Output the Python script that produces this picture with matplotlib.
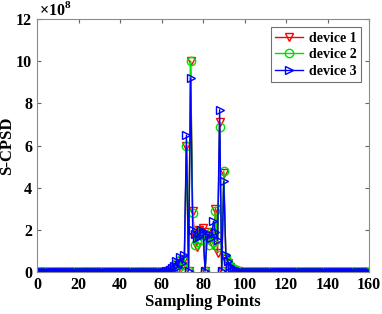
import matplotlib.pyplot as plt
import numpy as np

plt.rcParams['font.family'] = 'Liberation Serif'
plt.rcParams['font.weight'] = 'bold'
plt.rcParams['mathtext.fontset'] = 'custom'
plt.rcParams['mathtext.rm'] = 'Liberation Serif:bold'
plt.rcParams['mathtext.bf'] = 'Liberation Serif:bold'

x = np.arange(0, 161)

# values for sampling points 60..100 (units of 1e8), zero elsewhere
start = 60
dev1_mid = [0.0, 0.01, 0.02, 0.04, 0.07, 0.12, 0.2, 0.35, 0.15, 0.5,
            0.3, 0.6, 6.0, 0.05, 10.0, 2.9, 1.6, 1.2, 2.0, 1.8,
            2.1, 0.05, 1.9, 1.5, 1.7, 1.3, 3.0, 0.9, 7.1, 0.05,
            4.7, 0.6, 0.4, 0.25, 0.15, 0.1, 0.06, 0.04, 0.02, 0.01, 0.005]
dev2_mid = [0.0, 0.01, 0.02, 0.05, 0.08, 0.15, 0.25, 0.4, 0.2, 0.55,
            0.35, 0.5, 6.0, 0.05, 10.0, 2.8, 1.3, 1.4, 1.9, 1.5,
            1.8, 0.05, 1.6, 1.3, 1.9, 1.4, 2.9, 1.2, 6.9, 0.05,
            4.8, 0.7, 0.45, 0.3, 0.18, 0.12, 0.07, 0.04, 0.02, 0.01, 0.005]
dev3_mid = [0.0, 0.01, 0.03, 0.05, 0.1, 0.18, 0.3, 0.5, 0.25, 0.7,
            0.4, 0.8, 6.5, 0.05, 9.2, 2.0, 1.8, 1.6, 1.7, 2.0,
            1.9, 0.05, 1.7, 1.8, 1.6, 2.4, 1.9, 1.5, 7.7, 0.05,
            4.3, 0.8, 0.5, 0.3, 0.2, 0.12, 0.08, 0.05, 0.03, 0.01, 0.005]

def full(mid):
    y = np.zeros(len(x))
    y[start:start + len(mid)] = mid
    return y

fig = plt.figure(figsize=(3.82, 3.14), dpi=100)
ax = fig.add_axes([0.097, 0.134, 0.869, 0.805])

ax.plot(x, full(dev1_mid), color='red', marker='v', mfc='none', ms=6, lw=1, label='device 1')
ax.plot(x, full(dev2_mid), color='#00dd00', marker='o', mfc='none', ms=6, lw=1, label='device 2')
ax.plot(x, full(dev3_mid), color='blue', marker='>', mfc='none', ms=6, lw=1, label='device 3')

ax.set_xlim(0, 160)
ax.set_ylim(0, 12)
ax.set_xticks(np.arange(0, 161, 20))
ax.set_yticks(np.arange(0, 13, 2))
ax.text(0.005, 1.0, r'$\times10^{8}$', transform=ax.transAxes, fontsize=11.5,
        ha='left', va='bottom')

ax.tick_params(direction='in', top=True, right=True, labelsize=11.5, length=3, color='0.4')
for s in ax.spines.values():
    s.set_color('0.55')

ax.set_xlabel('Sampling Points', fontsize=12, fontweight='bold', labelpad=1)
ax.set_ylabel('S-CPSD', fontsize=12, fontweight='bold')
ax.yaxis.set_label_coords(-0.066, 0.5)

leg = ax.legend(loc='upper right', fontsize=10, fancybox=False, edgecolor='0.3',
                handlelength=2.0, handletextpad=0.4, borderpad=0.3,
                labelspacing=0.25, borderaxespad=0.6)
leg.get_frame().set_linewidth(0.8)

fig.savefig('out.png', dpi=100)
